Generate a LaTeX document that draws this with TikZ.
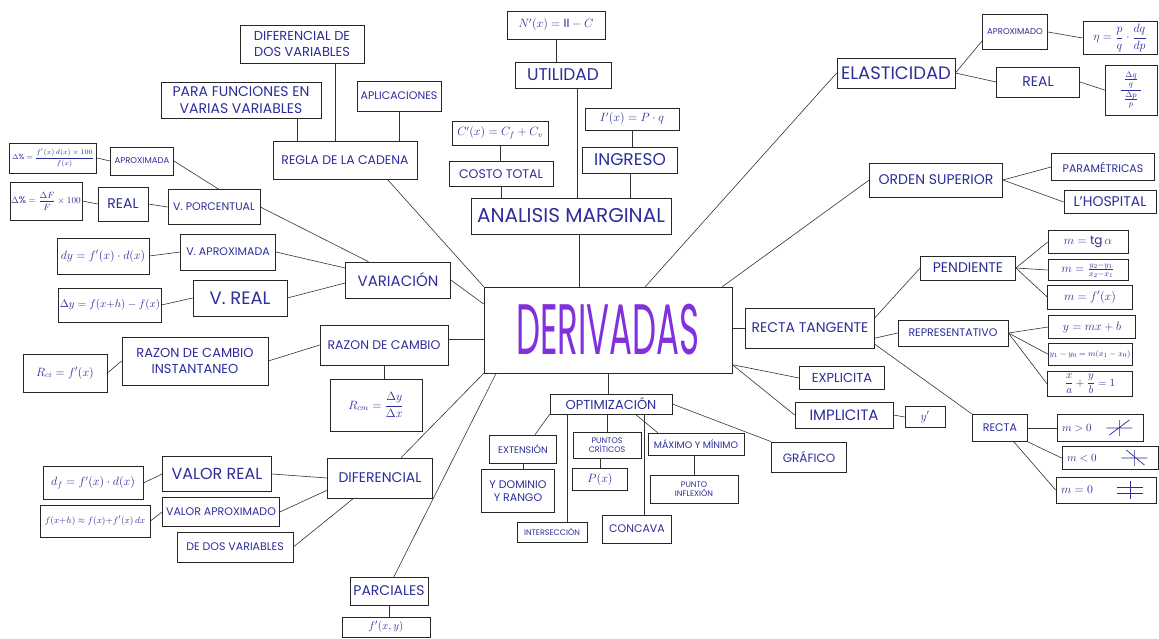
\documentclass[tikz,border=0pt]{standalone}
\usepackage{amsmath}
\usepackage{fontspec}
\usepackage{graphicx}
\setmainfont{Poppins}
\usetikzlibrary{calc}
\definecolor{ink}{RGB}{45,45,155}
\definecolor{vio}{RGB}{128,48,220}
\tikzset{
  bx/.style={draw=black!85, line width=0.7pt, text=ink, align=center, inner sep=1pt},
  wh/.style 2 args={minimum width=#1, minimum height=#2},
  fs/.style={font=\fontsize{#1}{\fpeval{#1*1.18}}\selectfont},
  ln/.style={draw=black!80, line width=0.6pt},
  icon/.style={draw=ink, line width=0.7pt},
}
\begin{document}
\begin{tikzpicture}[x=1pt,y=-1pt]
\fill[white] (0,0) rectangle (1159,639);
\useasboundingbox (0,0) rectangle (1159,639);

% centre
\node[bx,wh={248}{86}] (der) at (608,330) {\scalebox{1}[2.1]{\fontsize{34}{34}\selectfont\color{vio}DERIVADAS}};

% top: analisis marginal
\node[bx,wh={98}{28},fs=12] (nut) at (556,25) {$N'(x) = \mathrm{II} - C$};
\node[bx,wh={96}{26},fs=17] (util) at (563,75) {UTILIDAD};
\node[bx,wh={94}{22},fs=12] (ipx) at (632,119) {$I'(x) = P\cdot q$};
\node[bx,wh={95}{26},fs=17] (ingr) at (630,160) {INGRESO};
\node[bx,wh={96}{24},fs=12] (cpx) at (500,133) {$C'(x) = C_f + C_v$};
\node[bx,wh={104}{25},fs=12.5] (cost) at (501,174) {COSTO TOTAL};
\node[bx,wh={200}{36},fs=20] (anal) at (571,216) {ANALISIS MARGINAL};

% top left: regla de la cadena
\node[bx,wh={124}{38},fs=13] (dif2) at (302,44) {DIFERENCIAL DE\\DOS VARIABLES};
\node[bx,wh={160}{36},fs=14] (para) at (241,100) {PARA FUNCIONES EN\\VARIAS VARIABLES};
\node[bx,wh={84}{30},fs=11] (apli) at (399,96) {APLICACIONES};
\node[bx,wh={144}{38},fs=12.5] (regla) at (345,160) {REGLA DE LA CADENA};

% left: variacion
\node[bx,wh={87}{30},fs=7.5] (pct1) at (53,158) {$\Delta\% = \dfrac{f'(x)\, d(x)\times 100}{f(x)}$};
\node[bx,wh={63}{28},fs=8.5] (aprox1) at (142,161) {APROXIMADA};
\node[bx,wh={72}{38},fs=9.5] (pct2) at (46,201) {$\Delta\% = \dfrac{\Delta F}{F}\times 100$};
\node[bx,wh={50}{34},fs=14] (real1) at (123,204) {REAL};
\node[bx,wh={92}{35},fs=11] (vpor) at (214,207) {V. PORCENTUAL};
\node[bx,wh={92}{36},fs=12] (dy) at (103,256) {$dy = f'(x)\cdot d(x)$};
\node[bx,wh={95}{36},fs=11] (vapr) at (228,252) {V. APROXIMADA};
\node[bx,wh={95}{34},fs=10.5] (Dy) at (110,305) {$\Delta y = f(x{+}h) - f(x)$};
\node[bx,wh={94}{36},fs=18] (vreal) at (240,298) {V. REAL};
\node[bx,wh={105}{36},fs=15] (var) at (398,280) {VARIACIÓN};

% left: razon de cambio
\node[bx,wh={84}{38},fs=12] (rci) at (65,373) {$R_{ci} = f'(x)$};
\node[bx,wh={146}{48},fs=13] (rinst) at (195,361) {RAZON DE CAMBIO\\INSTANTANEO};
\node[bx,wh={128}{40},fs=12.5] (raz) at (384,345) {RAZON DE CAMBIO};
\node[bx,wh={92}{52},fs=12] (rcm) at (376,405) {$R_{cm} = \dfrac{\Delta y}{\Delta x}$};

% bottom left: diferencial
\node[bx,wh={100}{33},fs=12] (df) at (93,483) {$d_f = f'(x)\cdot d(x)$};
\node[bx,wh={109}{35},fs=16] (vr) at (217,474) {VALOR REAL};
\node[bx,wh={110}{32},fs=9.5] (fxh) at (95,521) {$f(x{+}h)\approx f(x){+}f'(x)\,dx$};
\node[bx,wh={117}{29},fs=11] (va) at (221,512) {VALOR APROXIMADO};
\node[bx,wh={116}{30},fs=11] (dedos) at (235,547) {DE DOS VARIABLES};
\node[bx,wh={105}{40},fs=14] (difl) at (380,478) {DIFERENCIAL};
\node[bx,wh={78}{28},fs=14] (parc) at (389,591) {PARCIALES};
\node[bx,wh={88}{20},fs=11] (fxy) at (386,627) {$f'(x,y)$};

% right: elasticidad
\node[bx,wh={118}{30},fs=18] (elas) at (896,73) {ELASTICIDAD};
\node[bx,wh={65}{35},fs=8.5] (aprx) at (1015,32) {APROXIMADO};
\node[bx,wh={74}{33},fs=12] (eta) at (1120,38) {$\eta = \dfrac{p}{q}\cdot\dfrac{dq}{dp}$};
\node[bx,wh={83}{30},fs=14] (realE) at (1038,82) {REAL};
\node[bx,wh={52}{50},fs=12] (fracE) at (1131,90) {$\dfrac{\;\frac{\Delta q}{q}\;}{\frac{\Delta p}{p}}$};

% right: orden superior
\node[bx,wh={133}{34},fs=14] (ord) at (936,180) {ORDEN SUPERIOR};
\node[bx,wh={103}{27},fs=11] (param) at (1103,167) {PARAMÉTRICAS};
\node[bx,wh={92}{23},fs=14] (hosp) at (1110,202) {L'HOSPITAL};

% right: recta tangente
\node[bx,wh={129}{40},fs=14] (rt) at (810,328) {RECTA TANGENTE};
\node[bx,wh={95}{24},fs=14] (pend) at (968,268) {PENDIENTE};
\node[bx,wh={110}{26},fs=11] (repr) at (953,333) {REPRESENTATIVO};
\node[bx,wh={80}{23},fs=12] (m1) at (1088,242) {$m = \mathrm{tg}\,\alpha$};
\node[bx,wh={80}{21},fs=12] (m2) at (1088,270) {$m = \frac{y_2-y_1}{x_2-x_1}$};
\node[bx,wh={85}{24},fs=12] (m3) at (1090,297) {$m = f'(x)$};
\node[bx,wh={87}{23},fs=12] (y1) at (1092,327) {$y = mx + b$};
\node[bx,wh={84}{22},fs=8.5] (y2) at (1090,354) {$y_1 - y_0 = m(x_1 - x_0)$};
\node[bx,wh={85}{25},fs=10.5] (y3) at (1090,384) {$\dfrac{x}{a} + \dfrac{y}{b} = 1$};
\node[bx,wh={85}{23},fs=13] (expl) at (842,378) {EXPLICITA};
\node[bx,wh={98}{26},fs=15] (impl) at (844,415) {IMPLICITA};
\node[bx,wh={40}{21},fs=12] (yp) at (925,417) {$y'$};
\node[bx,wh={55}{27},fs=11] (recta) at (1000,428) {RECTA};
\node[bx,wh={86}{27},fs=10.5,text width=76,align=left] (mpos) at (1100,428) {$m>0$};
\node[bx,wh={96}{23},fs=10.5,text width=86,align=left] (mneg) at (1110,458) {$m<0$};
\node[bx,wh={100}{26},fs=12,text width=90,align=left] (mzero) at (1106,490) {$m=0$};

% bottom: optimizacion
\node[bx,wh={122}{20},fs=13] (opt) at (611,404) {OPTIMIZACIÓN};
\node[bx,wh={67}{28},fs=9.5] (ext) at (523,449) {EXTENSIÓN};
\node[bx,wh={73}{43},fs=11] (dom) at (518,491) {Y DOMINIO\\Y RANGO};
\node[bx,wh={68}{26},fs=8] (pc) at (607,445) {PUNTOS\\CRÍTICOS};
\node[bx,wh={55}{22},fs=12] (px) at (600,479) {$P(x)$};
\node[bx,wh={96}{22},fs=9.5] (max) at (696,444) {MÁXIMO Y MÍNIMO};
\node[bx,wh={88}{28},fs=8] (inf) at (694,489) {PUNTO\\INFLEXIÓN};
\node[bx,wh={75}{30},fs=12] (graf) at (809,457) {GRÁFICO};
\node[bx,wh={70}{20},fs=8] (inter) at (552,532) {INTERSECCIÓN};
\node[bx,wh={69}{28},fs=11] (conc) at (637,529) {CONCAVA};

% slope icons
\coordinate (ip) at ($(mpos.east)+(-24,0)$);
\draw[icon] ($(ip)+(-13,0)$) -- ($(ip)+(13,0)$) ($(ip)+(0,-8)$) -- ($(ip)+(0,8)$) ($(ip)+(-10,7)$) -- ($(ip)+(10,-8)$);
\coordinate (in) at ($(mneg.east)+(-24,0)$);
\draw[icon] ($(in)+(-13,0)$) -- ($(in)+(13,0)$) ($(in)+(0,-8)$) -- ($(in)+(0,8)$) ($(in)+(-8,-8)$) -- ($(in)+(10,7)$);
\coordinate (iz) at ($(mzero.east)+(-26,0)$);
\draw[icon] ($(iz)+(-13,-3)$) -- ($(iz)+(13,-3)$) ($(iz)+(-13,3)$) -- ($(iz)+(13,3)$) ($(iz)+(0,-9)$) -- ($(iz)+(0,9)$);

% helper coordinates
\coordinate (cu) at ($(util.south)+(14,0)$);
\coordinate (ca) at ($(anal.south)+(8,0)$);
\coordinate (cp) at ($(para.south east)+(-24,0)$);
\coordinate (cd) at ($(dif2.south)+(33,0)$);
\coordinate (ci) at ($(opt.south west)!0.14!(opt.south east)$);
\coordinate (cc) at ($(opt.south west)!0.77!(opt.south east)$);
\coordinate (cr) at ($(raz.east)+(0,-6)$);

% connectors: analisis marginal
\draw[ln] (nut.south) -- (nut.south |- util.north);
\draw[ln] (cu) -- (cu |- anal.north);
\draw[ln] (ipx.south) -- (ipx.south |- ingr.north);
\draw[ln] (ingr.south) -- (ingr.south |- anal.north);
\draw[ln] (cpx.south) -- (cpx.south |- cost.north);
\draw[ln] (cost.south) -- (cost.south |- anal.north);
\draw[ln] (ca) -- (ca |- der.north);

% regla de la cadena
\draw[ln] (cp) -- (cp |- regla.north);
\draw[ln] (cd) -- (cd |- regla.north);
\draw[ln] (apli.south) -- (apli.south |- regla.north);
\draw[ln] ($(regla.south east)+(-30,0)$) -- (der.north west);

% variacion
\draw[ln] (pct1.east) -- (aprox1.west);
\draw[ln] (aprox1.east) -- ($(vpor.north west)!0.55!(vpor.north east)$);
\draw[ln] (pct2.east) -- (real1.west);
\draw[ln] (real1.east) -- (vpor.west);
\draw[ln] (vpor.east) -- ($(var.north west)!0.22!(var.north east)$);
\draw[ln] (dy.east) -- (vapr.west);
\draw[ln] (vapr.east) -- ($(var.west)+(0,-12)$);
\draw[ln] (Dy.east) -- (vreal.west);
\draw[ln] (vreal.east) -- ($(var.west)+(0,3)$);
\draw[ln] (var.east) -- ($(der.north west)!0.2!(der.south west)$);

% razon de cambio
\draw[ln] (rci.east) -- (rinst.west);
\draw[ln] (rinst.east) -- (raz.west);
\draw[ln] (raz.south) -- (raz.south |- rcm.north);
\draw[ln] (cr) -- (cr -| der.west);

% diferencial
\draw[ln] (df.east) -- (vr.west);
\draw[ln] (vr.east) -- (difl.west);
\draw[ln] (fxh.east) -- (va.west);
\draw[ln] (va.east) -- ($(difl.west)!0.6!(difl.south west)$);
\draw[ln] (dedos.east) -- ($(difl.south west)!0.25!(difl.south east)$);
\draw[ln] ($(difl.north west)!0.7!(difl.north east)$) -- (der.south west);
\draw[ln] ($(parc.north)+(5,0)$) -- ($(der.south west)!0.05!(der.south east)$);
\draw[ln] (parc.south) -- (parc.south |- fxy.north);

% elasticidad
\draw[ln] (elas.west) -- ($(der.north west)!0.65!(der.north east)$);
\draw[ln] (elas.east) -- ($(aprx.west)!0.5!(aprx.south west)$);
\draw[ln] (elas.east) -- (realE.west);
\draw[ln] (aprx.east) -- (eta.west);
\draw[ln] (realE.east) -- (fracE.west);

% orden superior
\draw[ln] (ord.west) -- ($(der.north east)+(-10,0)$);
\draw[ln] (ord.east) -- (param.west);
\draw[ln] (ord.east) -- (hosp.west);

% recta tangente
\draw[ln] (rt.west) -- (rt.west -| der.east);
\draw[ln] ($(rt.east)!0.5!(rt.north east)$) -- (pend.west);
\draw[ln] ($(rt.east)!0.5!(rt.south east)$) -- (repr.west);
\draw[ln] ($(rt.east)!0.8!(rt.south east)$) -- (recta.north west);
\draw[ln] (pend.east) -- (m1.west);
\draw[ln] (pend.east) -- (m2.west);
\draw[ln] (pend.east) -- (m3.west);
\draw[ln] (repr.east) -- (y1.west);
\draw[ln] (repr.east) -- (y2.west);
\draw[ln] (repr.east) -- (y3.west);
\draw[ln] (recta.east) -- (mpos.west);
\draw[ln] (recta.south east) -- (mneg.west);
\draw[ln] ($(recta.south east)+(-14,0)$) -- (mzero.west);
\draw[ln] ($(der.east)!0.8!(der.south east)$) -- (expl.west);
\draw[ln] ($(der.east)!0.8!(der.south east)$) -- (impl.west);
\draw[ln] (impl.east) -- (yp.west);

% optimizacion
\draw[ln] (der.south) -- (der.south |- opt.north);
\draw[ln] (opt.south west) -- ($(ext.north)+(12,0)$);
\draw[ln] (ci) -- (ci |- inter.north);
\draw[ln] (pc.north |- opt.south) -- (pc.north);
\draw[ln] ($(opt.south west)!0.7!(opt.south east)$) -- ($(max.north west)+(10,0)$);
\draw[ln] (cc) -- (cc |- conc.north);
\draw[ln] (opt.east) -- (graf.north west);
\draw[ln] (px.north |- pc.south) -- (px.north);
\draw[ln] (inf.north |- max.south) -- (inf.north);
\draw[ln] (ext.south) -- (ext.south |- dom.north);
\end{tikzpicture}
\end{document}
